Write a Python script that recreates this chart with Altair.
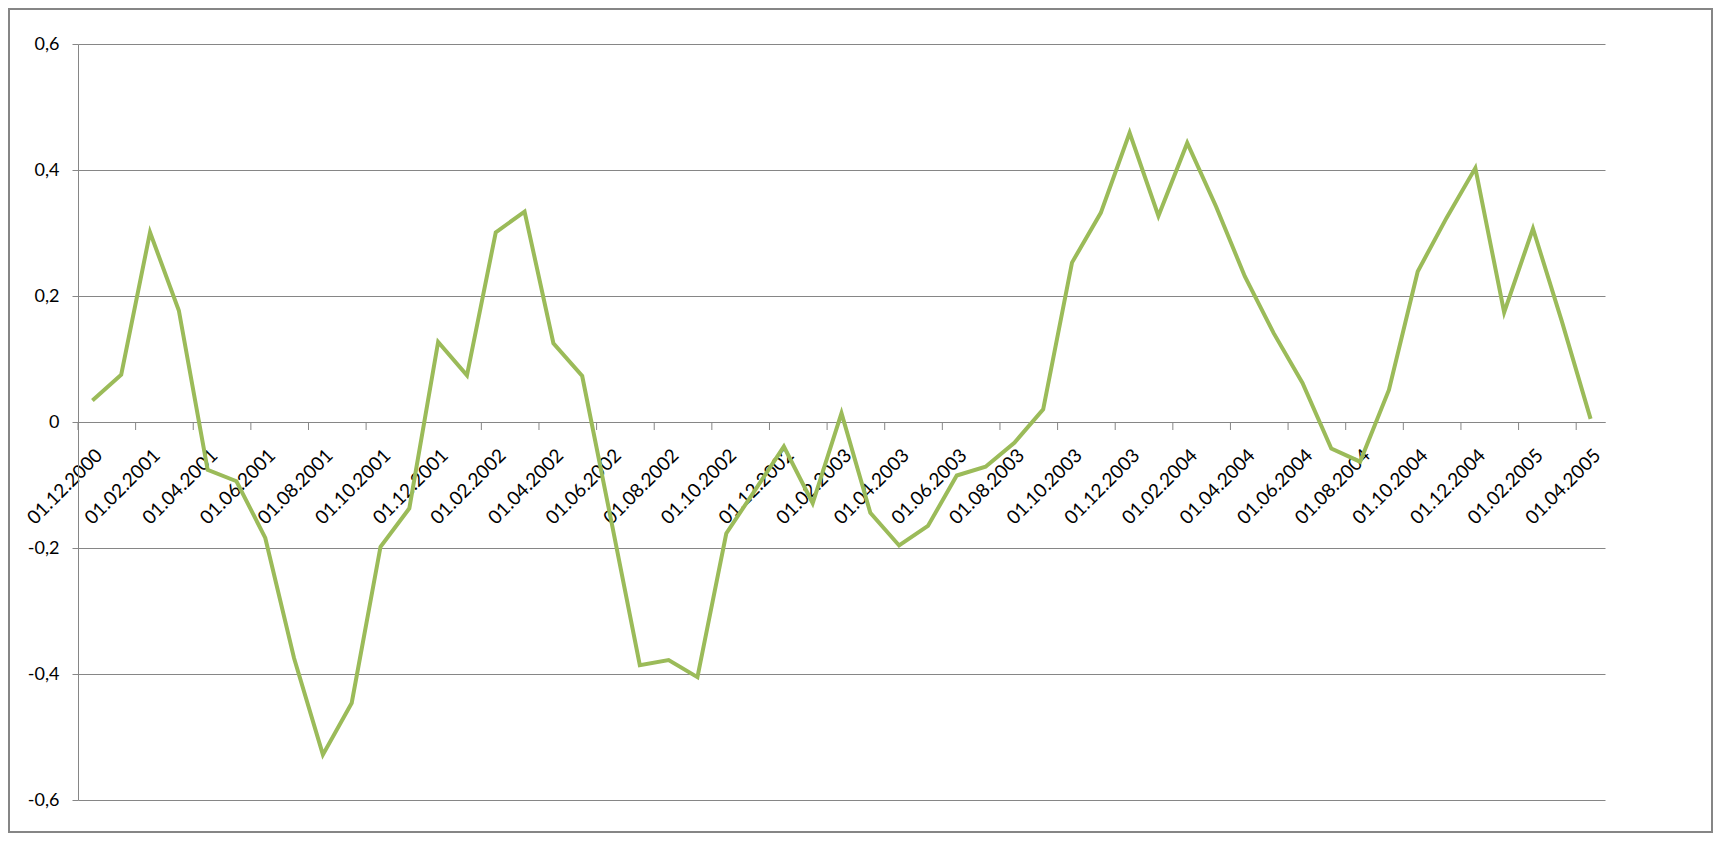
import altair as alt
import pandas as pd

dates = [
    "01.12.2000", "01.01.2001", "01.02.2001", "01.03.2001", "01.04.2001", "01.05.2001",
    "01.06.2001", "01.07.2001", "01.08.2001", "01.09.2001", "01.10.2001", "01.11.2001",
    "01.12.2001", "01.01.2002", "01.02.2002", "01.03.2002", "01.04.2002", "01.05.2002",
    "01.06.2002", "01.07.2002", "01.08.2002", "01.09.2002", "01.10.2002", "01.11.2002",
    "01.12.2002", "01.01.2003", "01.02.2003", "01.03.2003", "01.04.2003", "01.05.2003",
    "01.06.2003", "01.07.2003", "01.08.2003", "01.09.2003", "01.10.2003", "01.11.2003",
    "01.12.2003", "01.01.2004", "01.02.2004", "01.03.2004", "01.04.2004", "01.05.2004",
    "01.06.2004", "01.07.2004", "01.08.2004", "01.09.2004", "01.10.2004", "01.11.2004",
    "01.12.2004", "01.01.2005", "01.02.2005", "01.03.2005", "01.04.2005",
]

values = [
    0.034, 0.075, 0.301, 0.177, -0.076, -0.094,
    -0.184, -0.375, -0.528, -0.446, -0.198, -0.137,
    0.127, 0.074, 0.301, 0.334, 0.125, 0.073,
    -0.155, -0.386, -0.378, -0.405, -0.177, -0.108,
    -0.039, -0.129, 0.014, -0.144, -0.196, -0.165,
    -0.085, -0.071, -0.033, 0.020, 0.253, 0.332,
    0.459, 0.327, 0.443, 0.342, 0.231, 0.141,
    0.062, -0.042, -0.063, 0.051, 0.239, 0.324,
    0.403, 0.174, 0.307, 0.160, 0.005,
]

x_labels = dates[::2]
y_ticks = [-0.6, -0.4, -0.2, 0, 0.2, 0.4, 0.6]

df = pd.DataFrame({"date": dates, "value": values})
df_ticks = pd.DataFrame({"date": x_labels})

W, H = 1527, 756
PAD = {"left": 70, "top": 36, "right": 108, "bottom": 33}
GRAY = "#868686"
FONT = "Lato"

x_scale = alt.Scale(type="band", domain=dates, paddingInner=0, paddingOuter=0)
y_scale = alt.Scale(domain=[-0.6, 0.6], nice=False, zero=False)

line = (
    alt.Chart(df)
    .mark_line(color="#9BBB59", strokeWidth=4)
    .encode(
        x=alt.X(
            "date:N",
            sort=None,
            bandPosition=0.5,
            scale=x_scale,
            axis=alt.Axis(
                title=None,
                values=x_labels,
                orient="bottom",
                offset=-H / 2,
                ticks=False,
                domainColor=GRAY,
                grid=False,
                labelAngle=-45,
                labelAlign="right",
                labelBaseline="middle",
                labelPadding=30,
                labelOffset=7,
                labelFont=FONT,
                labelFontSize=19,
                labelColor="#000000",
                labelOverlap=False,
            ),
        ),
        y=alt.Y(
            "value:Q",
            scale=y_scale,
            axis=alt.Axis(
                title=None,
                values=y_ticks,
                grid=True,
                gridColor=GRAY,
                gridWidth=1,
                domainColor=GRAY,
                ticks=True,
                tickColor=GRAY,
                tickSize=6,
                labelPadding=13,
                labelFont=FONT,
                labelFontSize=18,
                labelColor="#000000",
                labelExpr="replace((datum.value < 0 ? '-' : '') + format(abs(datum.value), '.1~f'), '.', ',')",
            ),
        ),
    )
)

ticks = (
    alt.Chart(df_ticks)
    .mark_rule(color=GRAY, strokeWidth=1)
    .encode(
        x=alt.X("date:N", sort=None, bandPosition=0, scale=x_scale),
        y=alt.datum(0),
        y2=alt.value(H / 2 + 8),
    )
)

frame = (
    alt.Chart(pd.DataFrame({"frame": [0]}))
    .mark_rect(fill=None, stroke=GRAY, strokeWidth=2)
    .encode(
        x=alt.value(-PAD["left"] + 1),
        x2=alt.value(W + PAD["right"] - 1),
        y=alt.value(-PAD["top"] + 1),
        y2=alt.value(H + PAD["bottom"] - 1),
    )
)

chart = (
    alt.layer(ticks, line, frame)
    .properties(
        width=W,
        height=H,
        autosize=alt.AutoSizeParams(type="none"),
        padding=PAD,
        background="#ffffff",
    )
    .configure_view(stroke=None)
)

chart.save("out.html", embed_options={"renderer": "svg", "actions": False})
